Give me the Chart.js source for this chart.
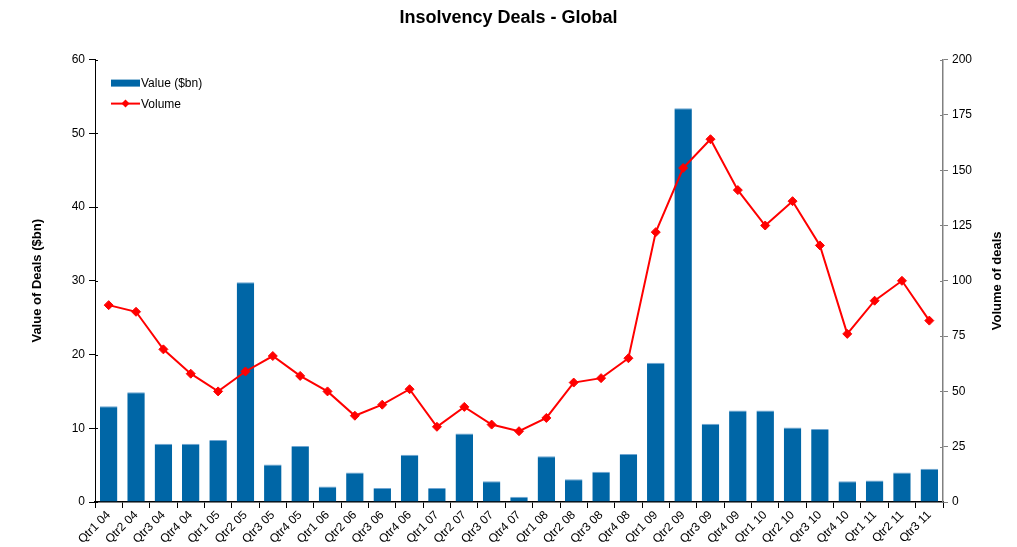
<!DOCTYPE html>
<html>
<head>
<meta charset="utf-8">
<script src="https://cdn.jsdelivr.net/npm/chart.js@4"></script>
<style>
  html, body { margin: 0; padding: 0; background: #fff; }
  #wrap { width: 1017px; height: 547px; }
</style>
</head>
<body>
<div id="wrap"><canvas id="chart" width="1017" height="547"></canvas></div>
<script>
// Quarterly insolvency deals, 2004 – Q3 2011
const quarters = [
  'Qtr1 04','Qtr2 04','Qtr3 04','Qtr4 04',
  'Qtr1 05','Qtr2 05','Qtr3 05','Qtr4 05',
  'Qtr1 06','Qtr2 06','Qtr3 06','Qtr4 06',
  'Qtr1 07','Qtr2 07','Qtr3 07','Qtr4 07',
  'Qtr1 08','Qtr2 08','Qtr3 08','Qtr4 08',
  'Qtr1 09','Qtr2 09','Qtr3 09','Qtr4 09',
  'Qtr1 10','Qtr2 10','Qtr3 10','Qtr4 10',
  'Qtr1 11','Qtr2 11','Qtr3 11'
];

// Deal value, $bn (left axis)
const dealValue = [
  13.0, 14.9, 7.9, 7.9,
  8.4, 29.8, 5.1, 7.6,
  2.1, 4.0, 1.9, 6.4,
  1.9, 9.3, 2.8, 0.7,
  6.2, 3.1, 4.1, 6.5,
  18.9, 53.4, 10.6, 12.4,
  12.4, 10.1, 9.9, 2.8,
  2.9, 4.0, 4.5
];

// Number of deals (right axis)
const dealVolume = [
  89, 86, 69, 58,
  50, 59, 66, 57,
  50, 39, 44, 51,
  34, 43, 35, 32,
  38, 54, 56, 65,
  122, 151, 164, 141,
  125, 136, 116, 76,
  91, 100, 82
];

const leftTicks = { min: 0, max: 60, step: 10 };
const rightTicks = { min: 0, max: 200, step: 25 };

const FONT = "'Liberation Sans', Arial, sans-serif";

// Legend inside the plot area, top-left, stacked vertically
const insideLegend = {
  id: 'insideLegend',
  afterDraw(chart) {
    const ctx = chart.ctx;
    const area = chart.chartArea;
    const x0 = area.left + 16;
    let y = area.top + 23;
    ctx.save();
    ctx.font = '12px ' + FONT;
    ctx.textBaseline = 'middle';
    chart.data.datasets.forEach(ds => {
      if (ds.type === 'bar') {
        ctx.fillStyle = ds.backgroundColor;
        ctx.fillRect(x0, y - 3, 29, 7);
      } else {
        ctx.strokeStyle = ds.borderColor;
        ctx.lineWidth = 2;
        ctx.beginPath();
        ctx.moveTo(x0, y);
        ctx.lineTo(x0 + 29, y);
        ctx.stroke();
        ctx.fillStyle = ds.pointBackgroundColor;
        ctx.beginPath();
        const cx = x0 + 14.5, r = 4;
        ctx.moveTo(cx, y - r); ctx.lineTo(cx + r, y); ctx.lineTo(cx, y + r); ctx.lineTo(cx - r, y);
        ctx.closePath();
        ctx.fill();
      }
      ctx.fillStyle = '#000';
      ctx.fillText(ds.label, x0 + 30, y + 1);
      y += 21;
    });
    ctx.restore();
  }
};

// Right-hand axis title, reading bottom-to-top like the left one
const rightTitle = {
  id: 'rightTitle',
  afterDraw(chart) {
    const ctx = chart.ctx;
    const area = chart.chartArea;
    ctx.save();
    ctx.translate(area.right + 54, (area.top + area.bottom) / 2);
    ctx.rotate(-Math.PI / 2);
    ctx.font = 'bold 13px ' + FONT;
    ctx.fillStyle = '#000';
    ctx.textAlign = 'center';
    ctx.textBaseline = 'middle';
    ctx.fillText('Volume of deals', 0, 0);
    ctx.restore();
  }
};

// Short tick marks that reach slightly inside the plot across each axis line
const crossTicks = {
  id: 'crossTicks',
  afterDatasetsDraw(chart) {
    const ctx = chart.ctx;
    const area = chart.chartArea;
    ctx.save();
    ctx.lineWidth = 1;
    const yl = chart.scales.y;
    ctx.strokeStyle = '#000';
    yl.ticks.forEach((t, i) => {
      const py = Math.round(yl.getPixelForTick(i)) + 0.5;
      ctx.beginPath(); ctx.moveTo(area.left, py); ctx.lineTo(area.left + 3, py); ctx.stroke();
    });
    const yr = chart.scales.y1;
    ctx.strokeStyle = '#808080';
    yr.ticks.forEach((t, i) => {
      const py = Math.round(yr.getPixelForTick(i)) + 0.5;
      ctx.beginPath(); ctx.moveTo(area.right - 3, py); ctx.lineTo(area.right, py); ctx.stroke();
    });
    ctx.restore();
  }
};

new Chart(document.getElementById('chart'), {
  data: {
    labels: quarters,
    datasets: [
      {
        type: 'bar',
        label: 'Value ($bn)',
        data: dealValue,
        yAxisID: 'y',
        backgroundColor: '#0066a6',
        borderColor: '#6fa6d2',
        borderWidth: { top: 1, left: 0, right: 0, bottom: 0 },
        barPercentage: 0.64,
        categoryPercentage: 1.0,
        order: 1
      },
      {
        type: 'line',
        label: 'Volume',
        data: dealVolume,
        yAxisID: 'y1',
        borderColor: '#ff0000',
        borderWidth: 2,
        pointStyle: 'rectRot',
        pointRadius: 4.5,
        pointBackgroundColor: '#ff0000',
        pointBorderColor: '#ff0000',
        pointBorderWidth: 1,
        tension: 0,
        order: 0
      }
    ]
  },
  options: {
    responsive: false,
    animation: false,
    layout: { padding: { left: 0, right: 0, top: 0, bottom: 0 } },
    plugins: {
      legend: { display: false },
      tooltip: { enabled: false },
      title: {
        display: true,
        text: 'Insolvency Deals - Global',
        color: '#000',
        font: { family: FONT, size: 18, weight: 'bold' },
        padding: { top: 7, bottom: 31 }
      }
    },
    scales: {
      x: {
        offset: true,
        grid: {
          display: true,
          drawOnChartArea: false,
          offset: true,
          tickLength: 6,
          color: '#000'
        },
        border: { color: '#000', width: 1.5 },
        ticks: {
          color: '#000',
          font: { family: FONT, size: 12 },
          minRotation: 45,
          maxRotation: 45,
          autoSkip: false,
          padding: 0
        },
        afterFit(scale) { scale.height = 45; }
      },
      y: {
        position: 'left',
        min: leftTicks.min,
        max: leftTicks.max,
        ticks: {
          stepSize: leftTicks.step,
          color: '#000',
          font: { family: FONT, size: 12 },
          padding: 4
        },
        grid: {
          drawOnChartArea: false,
          tickLength: 6,
          color: '#000'
        },
        border: { color: '#000', width: 1 },
        title: {
          display: true,
          text: 'Value of Deals ($bn)',
          color: '#000',
          font: { family: FONT, size: 13, weight: 'bold' },
          padding: { top: 30, bottom: 0 }
        },
        afterFit(scale) { scale.width = 95; }
      },
      y1: {
        position: 'right',
        min: rightTicks.min,
        max: rightTicks.max,
        ticks: {
          stepSize: rightTicks.step,
          color: '#000',
          font: { family: FONT, size: 12 },
          padding: 4
        },
        grid: {
          drawOnChartArea: false,
          tickLength: 5,
          color: '#808080'
        },
        border: { color: '#808080', width: 1.5 },
        afterFit(scale) { scale.width = 74; }
      }
    }
  },
  plugins: [insideLegend, rightTitle, crossTicks]
});
</script>
</body>
</html>
